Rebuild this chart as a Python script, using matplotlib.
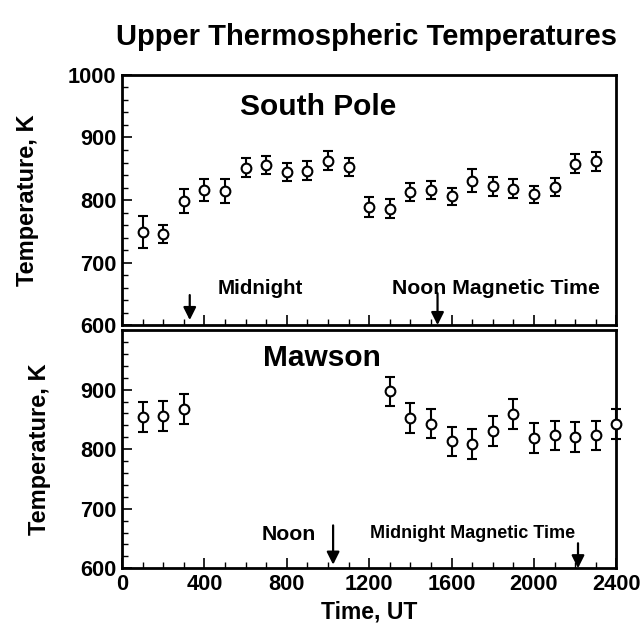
import matplotlib.pyplot as plt
from matplotlib.ticker import MultipleLocator

plt.rcParams['font.family'] = 'Liberation Sans'
plt.rcParams['font.weight'] = 'bold'

# South Pole: UT hour (x100), temperature, error
sp_time = [100, 200, 300, 400, 500, 600, 700, 800, 900, 1000, 1100, 1200,
           1300, 1400, 1500, 1600, 1700, 1800, 1900, 2000, 2100, 2200, 2300]
sp_temp = [749, 746, 798, 816, 814, 852, 856, 845, 847, 863, 853, 789,
           786, 813, 816, 806, 831, 822, 818, 809, 821, 858, 862]
sp_err = [25, 14, 19, 18, 19, 15, 15, 14, 15, 15, 15, 16,
          15, 15, 15, 14, 18, 15, 15, 14, 15, 15, 15]

# Mawson
mw_time = [100, 200, 300, 1300, 1400, 1500, 1600, 1700, 1800, 1900, 2000,
           2100, 2200, 2300, 2400]
mw_temp = [854, 856, 868, 897, 853, 843, 813, 809, 831, 859, 819,
           823, 821, 823, 842]
mw_err = [25, 25, 25, 25, 25, 25, 25, 25, 25, 25, 25, 25, 25, 25, 25]

x_ticks = [0, 400, 800, 1200, 1600, 2000, 2400]
y_ticks_top = [600, 700, 800, 900, 1000]
y_ticks_bot = [600, 700, 800, 900]

fig = plt.figure(figsize=(6.42, 6.30), dpi=100)
ax1 = fig.add_axes([0.190, 0.484, 0.770, 0.397])
ax2 = fig.add_axes([0.190, 0.098, 0.770, 0.378])

eb_style = dict(fmt='o', color='black', mfc='white', mec='black', ms=7, mew=1.5,
                elinewidth=1.5, capsize=3.5, capthick=1.5, clip_on=False, zorder=3)
ax1.errorbar(sp_time, sp_temp, yerr=sp_err, **eb_style)
ax2.errorbar(mw_time, mw_temp, yerr=mw_err, **eb_style)

for ax in (ax1, ax2):
    ax.set_xlim(0, 2400)
    ax.set_ylim(600, 1000)
    ax.set_xticks(x_ticks)
    ax.xaxis.set_minor_locator(MultipleLocator(100))
    ax.yaxis.set_minor_locator(MultipleLocator(20))
    ax.tick_params(which='major', direction='in', length=7, width=1.2, labelsize=15.7, pad=4)
    ax.tick_params(which='minor', direction='in', length=4, width=1.0)
    for s in ax.spines.values():
        s.set_linewidth(2)
    ax.set_ylabel('Temperature, K', fontsize=17, fontweight='bold', labelpad=21)

ax1.set_yticks(y_ticks_top)
ax1.tick_params(axis='x', labelbottom=False)
ax2.set_yticks(y_ticks_bot)
ax2.set_xlabel('Time, UT', fontsize=16.5, fontweight='bold', labelpad=4)

fig.text(0.571, 0.941, 'Upper Thermospheric Temperatures', ha='center', va='center',
         fontsize=21, fontweight='bold')

ax1.text(953, 949, 'South Pole', ha='center', va='center', fontsize=21.5, fontweight='bold')
ax2.text(973, 954, 'Mawson', ha='center', va='center', fontsize=21.5, fontweight='bold')

arrow = dict(arrowstyle='-|>', color='black', lw=1.6, mutation_scale=19,
             shrinkA=0, shrinkB=0)
ax1.text(673, 658, 'Midnight', ha='center', va='center', fontsize=14.8, fontweight='bold')
ax1.annotate('', xy=(329, 608), xytext=(329, 648), arrowprops=arrow)
ax1.text(1816, 658, 'Noon Magnetic Time', ha='center', va='center', fontsize=15.3,
         fontweight='bold')
ax1.annotate('', xy=(1532, 600), xytext=(1532, 651), arrowprops=arrow)

ax2.text(811, 656, 'Noon', ha='center', va='center', fontsize=15.3, fontweight='bold')
ax2.annotate('', xy=(1025, 606), xytext=(1025, 672), arrowprops=arrow)
ax2.text(1702, 659, 'Midnight Magnetic Time', ha='center', va='center', fontsize=13,
         fontweight='bold')
ax2.annotate('', xy=(2214, 600), xytext=(2214, 642), arrowprops=arrow)

fig.savefig('out.png', dpi=100)
